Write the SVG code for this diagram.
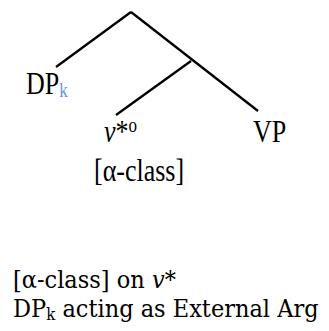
<svg xmlns="http://www.w3.org/2000/svg" width="329" height="331" viewBox="0 0 329 331">
  <style>
    .edge { stroke: #000; stroke-width: 2.3; fill: none; stroke-linecap: butt; }
    .lbl { font-family: "Liberation Serif", "Times New Roman", serif; font-size: 26px; fill: #000; }
    .sub { fill: #5B9BD5; }
    .note { font-family: "DejaVu Serif", "Liberation Serif", serif; font-size: 22.5px; fill: #000; }
  </style>
  <rect width="329" height="331" fill="#fff"/>
  <g id="connectors">
    <path class="edge" d="M131,12 L56,67"/>
    <path class="edge" d="M131,12 L258,111"/>
    <path class="edge" d="M191,61 L116,115"/>
  </g>
  <g id="node-dp">
    <text class="lbl" transform="translate(26,94) scale(1,1.2)">DP<tspan class="sub" font-size="17" dy="2.5">k</tspan></text>
  </g>
  <g id="node-v">
    <text class="lbl" transform="translate(104,142) scale(1,1.2)"><tspan font-style="italic">v</tspan>*<tspan font-size="17" dy="-8">o</tspan></text>
    <text class="lbl" transform="translate(94,181) scale(1,1.2)">[α-class]</text>
  </g>
  <g id="node-vp">
    <text class="lbl" transform="translate(253,142) scale(1,1.2)">VP</text>
  </g>
  <g id="caption">
    <text class="note" transform="translate(13,288) scale(1,1.1)">[α-class] on <tspan font-style="italic">v</tspan>*</text>
    <text class="note" transform="translate(13,317) scale(1,1.1)">DP<tspan font-size="15" dy="3">k</tspan><tspan dy="-3"> acting as External Arg</tspan></text>
  </g>
</svg>
